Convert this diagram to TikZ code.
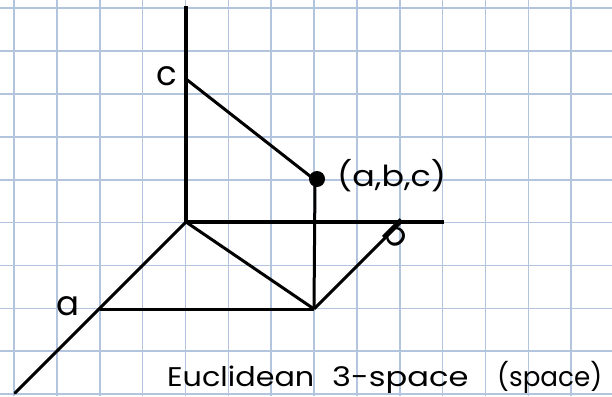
\documentclass[tikz,border=0pt]{standalone}
\usepackage{fontspec}
\setmainfont{Poppins}
\definecolor{gridblue}{RGB}{178,196,222}
\begin{document}
\begin{tikzpicture}[x=1pt,y=-1pt,
  gridline/.style={draw=gridblue,line width=1.6pt},
  axis/.style={draw=black,line width=3.6pt},
  edge/.style={draw=black,line width=3pt},
  lbl/.style={font=\fontsize{34}{36}\selectfont,inner sep=0pt},
  ptlbl/.style={font=\fontsize{29}{31}\selectfont,inner sep=0pt,xscale=1.15},
  caption/.style={font=\fontsize{27}{29}\selectfont,inner sep=0pt,anchor=base west}]
\useasboundingbox (0,0) rectangle (612,396);
\fill[white] (0,0) rectangle (612,396);
% grid
\foreach \i in {0,...,13} {\draw[gridline] ({14+42.86*\i},0) -- ({14+42.86*\i},396);}
\foreach \j in {0,...,9} {\draw[gridline] (0,{8.3+42.86*\j}) -- (612,{8.3+42.86*\j});}
% points
\coordinate (O) at (186,222);
\coordinate (ztop) at (186,8);
\coordinate (yend) at (444,222);
\coordinate (xend) at (15,393);
\coordinate (A) at (100,309);
\coordinate (C) at (186,79);
\coordinate (P) at (315,180);
\coordinate (Q) at (314,309);
\coordinate (B) at (401,222);
% axes
\draw[axis,line cap=rect] (ztop) -- (O);
\draw[axis] (O) -- (yend);
\draw[edge,line cap=round] (O) -- (xend);
% box edges
\draw[edge] (C) -- (P);
\draw[edge] (P) -- (Q);
\draw[edge] (A) -- (Q);
\draw[edge] (O) -- (Q);
\draw[edge] (Q) -- (B);
\fill[black] (317,179) circle (8);
% labels
\node[lbl,anchor=east] (lc) at (177,76) {c};
\node[lbl,anchor=east] (la) at (80,306) {a};
\node[lbl,rotate=-45] (lb) at (397,234) {b};
\node[ptlbl,anchor=west] (lp) at (337,176) {(a,b,c)};
\node[caption,xscale=1.12] (cap1) at (167,386) {Euclidean};
\node[caption,xscale=1.19] (cap2) at (332,386) {3-space};
\node[caption,xscale=0.97] (cap3) at (497,386) {(space)};
\end{tikzpicture}
\end{document}
